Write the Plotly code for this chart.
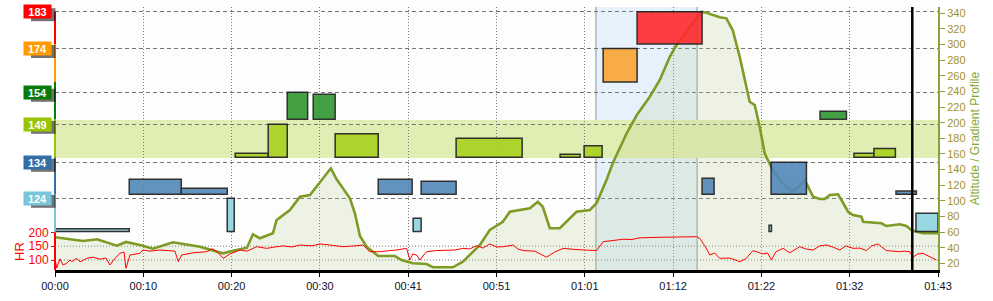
import plotly.graph_objects as go

# ---------------- data ----------------
tick_minutes = [0, 10.3, 20.6, 30.9, 41.2, 51.5, 61.8, 72.1, 82.4, 92.7, 103.0]
tick_labels = ['00:00', '00:10', '00:20', '00:30', '00:41', '00:51',
               '01:01', '01:12', '01:22', '01:32', '01:43']

alt_ticks = [20, 40, 60, 80, 100, 120, 140, 160, 180, 200, 220, 240, 260, 280, 300, 320, 340]

alt_time = [0.0, 3.27, 4.90, 7.23, 8.28, 9.91, 11.43, 13.76, 16.91, 19.59, 20.76, 22.39,
            23.09, 23.90, 25.42, 25.85, 27.40, 28.57, 29.74, 30.52, 31.29, 32.18, 32.85,
            33.62, 34.40, 34.98, 35.57, 36.35, 37.70, 39.65, 40.43, 41.75, 43.34, 44.08,
            46.41, 47.58, 49.56, 50.72, 52.24, 53.06, 55.39, 56.32, 56.90, 57.72, 58.89,
            60.83, 62.39, 63.17, 64.33, 65.07, 66.70, 67.87, 69.38, 70.55, 71.71, 72.50,
            74.04, 75.41, 75.99, 77.54, 78.32, 79.05, 79.87, 80.65, 81.03, 81.62, 82.20,
            82.78, 83.72, 84.15, 84.93, 85.91, 86.30, 87.46, 87.84, 88.43, 89.21, 89.79,
            90.38, 91.34, 91.74, 92.51, 93.09, 94.07, 94.26, 95.42, 96.40, 96.98, 98.53,
            99.31, 99.90, 100.48, 101.25, 103.0]
alt_value = [53.3, 48.5, 50.7, 42.5, 47.3, 43.4, 38.7, 46.9, 41.2, 32.8, 36.1, 40.0,
             57.1, 52.0, 58.4, 75.4, 88.2, 105.2, 107.4, 118.0, 128.8, 141.6, 127.5,
             116.0, 103.2, 84.0, 54.9, 41.2, 29.3, 29.3, 24.2, 20.0, 19.1, 14.9,
             14.9, 22.0, 43.4, 62.6, 73.2, 86.0, 90.4, 98.8, 92.4, 64.8, 64.8,
             86.0, 88.2, 96.8, 126.6, 148.4, 186.8, 209.8, 233.2, 254.6, 284.4, 299.4,
             322.8, 342.0, 340.8, 334.9, 333.6, 318.6, 284.4, 246.0, 226.8, 222.6, 194.8,
             160.8, 139.4, 133.0, 122.4, 112.9, 113.8, 126.6, 117.3, 105.2, 102.3, 102.3,
             107.4, 108.3, 101.0, 86.0, 81.8, 79.6, 73.2, 72.0, 71.2, 67.7, 69.9,
             67.7, 62.6, 60.4, 58.4, 58.4]

hr_time = [0.0, 0.2, 0.58, 0.93, 1.36, 1.75, 1.95, 2.53, 2.92, 3.70, 4.47, 5.25, 5.95,
           6.41, 6.99, 7.58, 8.05, 8.28, 8.75, 9.91, 10.26, 11.08, 12.24, 13.41, 13.99,
           14.38, 14.77, 16.13, 17.69, 18.31, 18.86, 19.63, 20.41, 21.57, 22.39, 23.52,
           24.69, 25.65, 26.62, 27.64, 28.57, 29.97, 30.90, 32.07, 33.58, 34.98, 35.92,
           36.73, 37.90, 39.06, 39.85, 41.01, 41.40, 41.75, 42.18, 42.56, 43.34, 44.43,
           45.68, 46.64, 47.61, 48.39, 49.17, 49.91, 50.72, 51.54, 52.28, 53.44, 53.99,
           54.61, 55.97, 57.34, 58.30, 59.27, 60.64, 62.39, 63.17, 63.94, 65.10, 66.27,
           67.28, 68.22, 70.55, 72.88, 74.83, 75.21, 75.80, 76.38, 76.96, 77.54, 78.71,
           79.87, 80.57, 81.42, 82.59, 83.13, 83.57, 84.07, 84.93, 85.71, 86.88, 87.57,
           88.43, 89.21, 89.99, 90.72, 91.54, 92.24, 93.09, 93.87, 94.65, 95.27, 96.00,
           96.43, 96.98, 97.72, 98.53, 99.11, 99.70, 100.08, 100.63, 101.25, 102.03, 102.81]
hr_value = [106, 71, 104, 82, 88, 100, 94, 106, 93, 106, 110, 103, 107,
            82, 106, 124, 129, 70, 118, 124, 136, 132, 136, 134, 132,
            94, 118, 126, 130, 140, 132, 106, 122, 136, 132, 148,
            142, 147, 151, 147, 154, 151, 158, 154, 148, 151, 154,
            130, 130, 134, 136, 142, 100, 122, 118, 100, 130, 134,
            134, 136, 142, 140, 152, 143, 158, 147, 148, 154, 140,
            134, 132, 110, 129, 142, 138, 136, 134, 166, 170, 175,
            174, 180, 182, 183, 184, 178, 151, 118, 125, 106, 107,
            94, 104, 134, 122, 125, 100, 129, 142, 126, 148, 140,
            136, 151, 154, 147, 136, 151, 142, 143, 134, 151, 158,
            147, 134, 132, 130, 132, 130, 110, 122, 124, 111, 100]

zone_names = ['124', '134', '149', '154', '174', '183']

box_start = [0.0, 8.66, 14.73, 20.09, 21.02, 24.87, 27.09, 30.12, 32.68, 37.70, 41.78,
             42.71, 46.79, 58.92, 61.72, 63.94, 67.90, 75.48, 83.29, 83.53, 89.24,
             93.20, 95.53, 98.10, 100.43]
box_end = [8.66, 14.73, 20.09, 20.91, 24.87, 27.09, 29.47, 32.68, 37.70, 41.66, 42.71,
           46.79, 54.49, 61.25, 63.82, 67.90, 75.48, 76.88, 83.57, 87.65, 92.32,
           95.53, 98.03, 100.48, 103.0]
box_zone = [0, 1, 1, 0, 2, 2, 3, 3, 2, 1, 0,
            1, 2, 2, 2, 4, 5, 1, 0, 1, 3,
            2, 2, 1, 0]
box_height = [0.08, 0.47, 0.19, 1.0, 0.12, 1.0, 1.0, 0.93, 0.71, 0.47, 0.40,
              0.41, 0.58, 0.09, 0.35, 1.0, 1.0, 0.5, 0.19, 1.0, 0.30,
              0.12, 0.27, 0.10, 0.55]

selected_start = 63.1
selected_end = 74.9
cursor_time = 100.0

# ---------------- layout constants ----------------
row_bottom = [38.5, 75.7, 112.7, 150.7, 188.0, 226.0]
row_top = [71.7, 107.7, 145.7, 177.7, 221.5, 258.3]
seg_top = [75.7, 112.7, 150.7, 188.0, 226.0, 258.3]
label_colors = ['#77c6da', '#336ea6', '#99c400', '#087a08', '#ff9a00', '#ff0000']
box_colors = ['#8dd5e0', '#5287b8', '#a8d21f', '#2f962f', '#f9a532', '#ff2a2e']
band_lo, band_hi = 112.0, 150.0
HR_RANGE = [63.9, 1013.4]
ALT_RANGE = [11.4, 348.1]
alt_color = '#7d9b25'
PLOT_W = 883.0

fig = go.Figure()

# altitude profile (main axis, right side)
fig.add_trace(go.Scatter(
    x=alt_time, y=alt_value, mode='lines', yaxis='y',
    line=dict(color=alt_color, width=2.6),
    fill='tozeroy', fillcolor='rgba(185,205,145,0.22)', hoverinfo='skip'))

# zone boxes
for z in range(len(zone_names)):
    idx = [i for i in range(len(box_start)) if box_zone[i] == z]
    if not idx:
        continue
    span = row_top[z] - row_bottom[z]
    fig.add_trace(go.Bar(
        x=[(box_start[i] + box_end[i]) / 2 for i in idx],
        width=[box_end[i] - box_start[i] for i in idx],
        y=[box_height[i] * span for i in idx],
        base=[row_bottom[z]] * len(idx),
        yaxis='y2', opacity=0.9,
        marker=dict(color=box_colors[z], line=dict(color='#1c1c1c', width=1.5)),
        hoverinfo='skip'))

# heart rate
fig.add_trace(go.Scatter(
    x=hr_time, y=hr_value, mode='lines', yaxis='y3',
    line=dict(color='#ff0000', width=1), hoverinfo='skip'))

shapes = []
# selected interval
shapes.append(dict(type='rect', xref='x', yref='paper', x0=selected_start, x1=selected_end,
                   y0=0, y1=1, fillcolor='#e7f1fb', line=dict(width=0), layer='below'))
for xv in (selected_start, selected_end):
    shapes.append(dict(type='line', xref='x', yref='paper', x0=xv, x1=xv, y0=0, y1=1,
                       line=dict(color='#8a9298', width=1), layer='below'))
# highlighted zone band
shapes.append(dict(type='rect', xref='paper', yref='y2', x0=0, x1=1, y0=band_lo, y1=band_hi,
                   fillcolor='#e0eeb4', line=dict(width=0), layer='below'))
# HR grid lines
for hv in (150, 100):
    shapes.append(dict(type='line', xref='paper', yref='y3', x0=0, x1=1, y0=hv, y1=hv,
                       line=dict(color='#777777', width=1, dash='1px,2px'), layer='below'))
# colored left axis segments
for z in range(len(zone_names)):
    shapes.append(dict(type='line', xref='paper', yref='y2', x0=0, x1=0,
                       y0=row_bottom[z] if z == 0 else seg_top[z - 1], y1=seg_top[z],
                       line=dict(color=label_colors[z], width=2), layer='above'))
shapes.append(dict(type='line', xref='paper', yref='y3', x0=0, x1=0, y0=HR_RANGE[0], y1=200,
                   line=dict(color='#ff0000', width=2), layer='above'))
# zone label drop shadows
for z in range(len(zone_names)):
    shapes.append(dict(type='rect', xref='paper', yref='y2',
                       x0=-24 / PLOT_W, x1=0.5 / PLOT_W,
                       y0=row_top[z] - 9.5, y1=row_top[z] + 3.5,
                       fillcolor='rgba(0,0,0,0.55)', line=dict(width=0), layer='above'))
# cursor
shapes.append(dict(type='line', xref='x', yref='paper', x0=cursor_time, x1=cursor_time,
                   y0=0, y1=1, line=dict(color='black', width=2.5), layer='above'))

annotations = []
for z in range(len(zone_names)):
    annotations.append(dict(xref='paper', yref='y2', x=-3 / PLOT_W, y=row_top[z],
                            xanchor='right', yanchor='middle', text='<b>%s</b>' % zone_names[z],
                            showarrow=False, width=25, height=11, borderpad=1,
                            bgcolor=label_colors[z],
                            font=dict(color='white', size=11, family='Liberation Sans, Arial')))
annotations.append(dict(xref='paper', yref='y3', x=-35 / PLOT_W, y=129, text='HR',
                        textangle=-90, showarrow=False, xanchor='center', yanchor='middle',
                        font=dict(color='#ff0000', size=13)))

fig.update_layout(
    width=993, height=301, margin=dict(l=55, r=55, t=7, b=31),
    paper_bgcolor='white', plot_bgcolor='#fdfdfd', showlegend=False, barmode='overlay',
    font=dict(family='Liberation Sans, Arial', size=11),
    shapes=shapes, annotations=annotations,
    xaxis=dict(range=[0, 103], tickvals=tick_minutes, ticktext=tick_labels,
               showgrid=True, gridcolor='#7a7a7a', griddash='1px,2px', gridwidth=1,
               showline=True, linecolor='black', linewidth=3, ticks='outside', ticklen=4,
               tickcolor='black', tickfont=dict(color='#10102a', size=11), zeroline=False),
    yaxis=dict(side='right', range=ALT_RANGE, tickvals=alt_ticks, showgrid=False,
               showline=True, linecolor='#8aa23a', linewidth=2, ticks='outside', ticklen=5,
               tickcolor='#8aa23a', tickfont=dict(color='#a39228', size=11),
               title=dict(text='Altitude / Gradient Profile', font=dict(color='#86a832', size=12),
                          standoff=6),
               zeroline=False),
    yaxis2=dict(overlaying='y', side='left', range=[0, 263], tickvals=row_top,
                showticklabels=False, ticks='', showgrid=True, gridcolor='#777777',
                griddash='4px,3px', gridwidth=1, showline=False, zeroline=False),
    yaxis3=dict(overlaying='y', side='left', range=HR_RANGE, tickvals=[100, 150, 200],
                showgrid=False, ticks='outside', ticklen=3, tickcolor='#ff0000',
                tickfont=dict(color='#ff0000', size=12), showline=False, zeroline=False),
)

fig.write_html('out.html')
